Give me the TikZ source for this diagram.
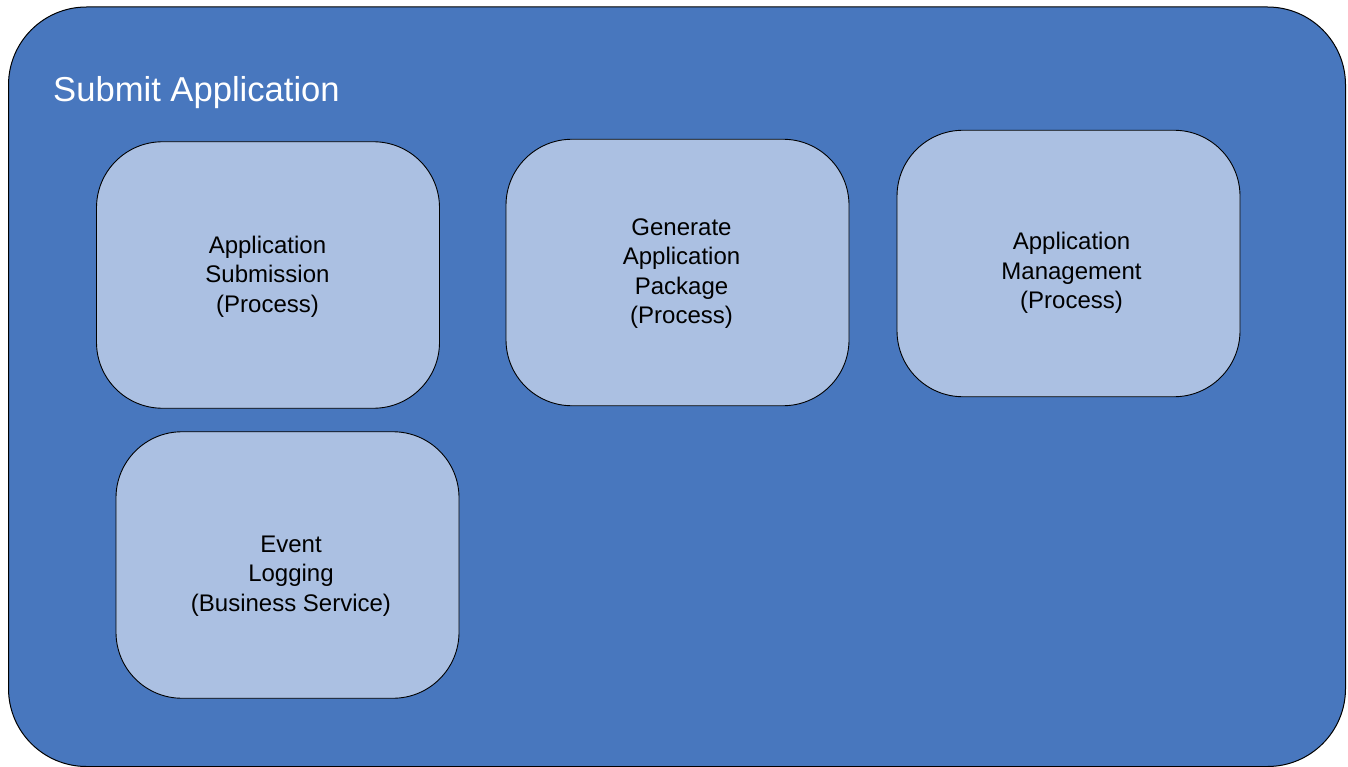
\documentclass[tikz,border=0pt]{standalone}
\usepackage{fontspec}
\setmainfont{Liberation Sans}
\definecolor{groupblue}{HTML}{4877BE}
\definecolor{itemblue}{HTML}{ABC0E2}
\begin{document}
\begin{tikzpicture}[x=1pt,y=-1pt,
  group/.style={draw=black,line width=1pt,fill=groupblue,rounded corners=78pt,
    rectangle,inner sep=0pt},
  item/.style={draw=black,line width=0.9pt,fill=itemblue,rounded corners=66pt,
    rectangle,inner sep=0pt,minimum width=343pt,minimum height=266.5pt},
  itemtext/.style={align=center,text=black,inner sep=0pt,
    font=\fontsize{24pt}{29.5pt}\selectfont},
  grouptitle/.style={anchor=base west,text=white,inner sep=0pt,
    font=\fontsize{34.6pt}{40pt}\selectfont}]
  \useasboundingbox (0,0) rectangle (1348,767);

  % outer group frame with its title
  \node[group,minimum width=1337pt,minimum height=759.5pt] (frame) at (677,386.75) {};
  \node[grouptitle] (title) at (53,101.5) {Submit Application};

  % process and service boxes, each with its label
  \node[item] (sub) at (268,275) {};
  \node[itemtext] (subtext) at (267.5,276.5) {Application\\Submission\\(Process)};

  \node[item] (gen) at (677.5,272.5) {};
  \node[itemtext] (gentext) at (681.5,273.5) {Generate\\Application\\Package\\(Process)};

  \node[item] (mgmt) at (1068.5,263.5) {};
  \node[itemtext] (mgmttext) at (1071.5,273) {Application\\Management\\(Process)};

  \node[item] (log) at (287.5,565) {};
  \node[itemtext] (logtext) at (291,576) {Event\\Logging\\(Business Service)};
\end{tikzpicture}
\end{document}
